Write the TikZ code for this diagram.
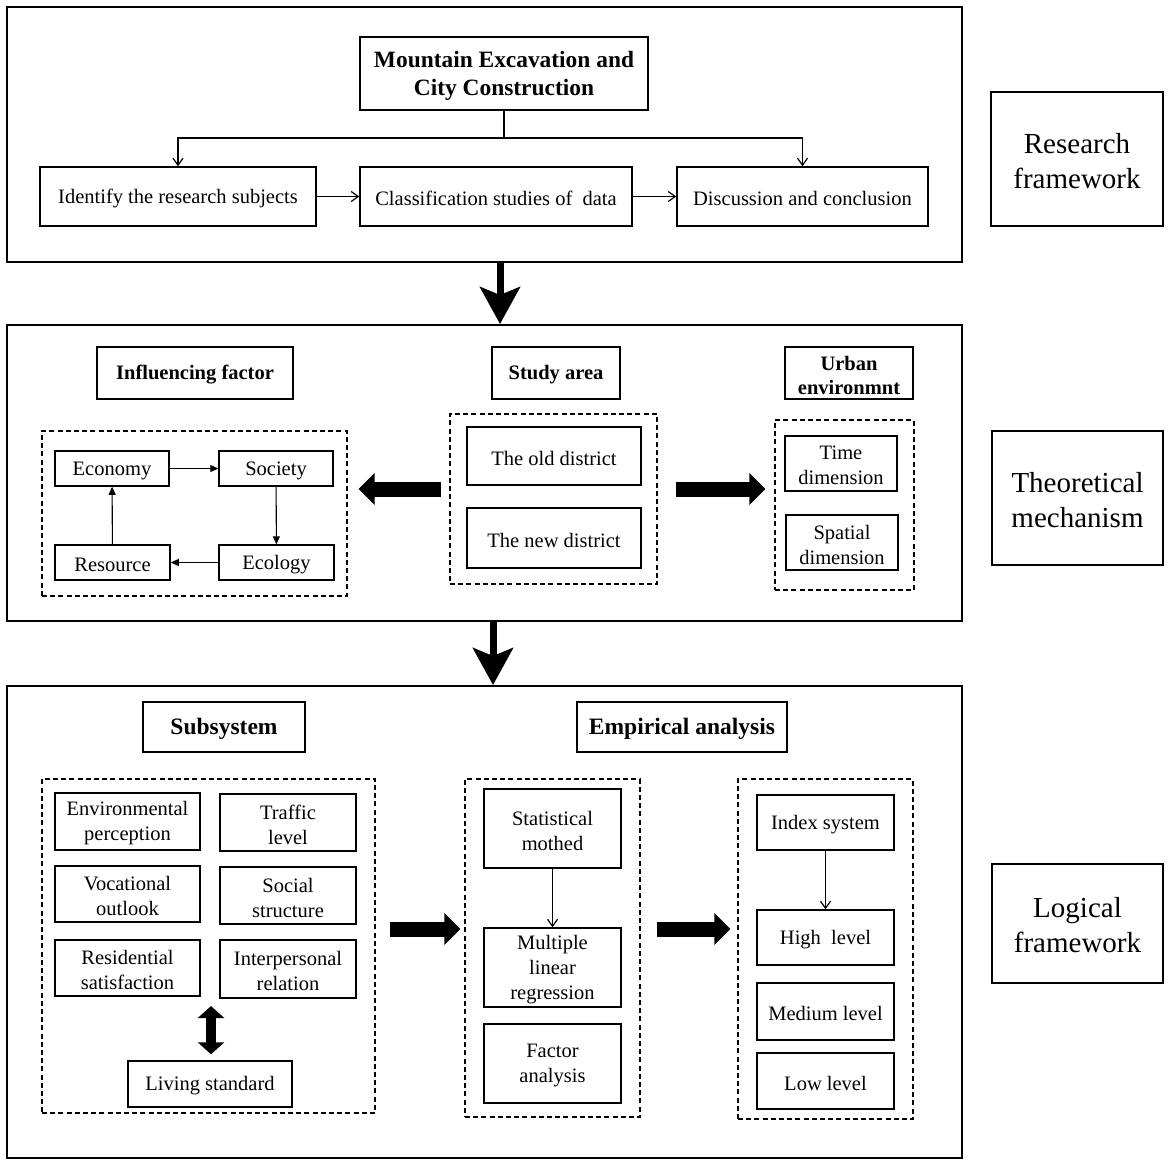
\documentclass[tikz,border=0pt]{standalone}
\usepackage{fontspec}
\setmainfont{Liberation Serif}
\usetikzlibrary{arrows.meta}
\newcommand\bx[7][]{\node[box,#1,minimum width={(#5-#3)*0.5pt},minimum height={(#6-#4)*0.5pt}] (#2) at ({(#3+#5)/2},{(#4+#6)/2}) {};
  \node[box,#1,draw=none,yshift=-1pt] (#2-t) at (#2.center) {#7};}
\begin{document}
\begin{tikzpicture}[x=0.5pt,y=-0.5pt,
  box/.style={draw,line width=0.75pt,align=center,inner sep=1pt,font=\fontsize{10.25}{12.5}\selectfont},
  obox/.style={line width=1pt},
  dbox/.style={line width=0.6pt,dash pattern=on 2.5pt off 1.6pt},
  tbox/.style={font=\fontsize{11.7}{14}\selectfont\bfseries},
  hbox/.style={font=\fontsize{10.25}{12}\selectfont\bfseries},
  Hbox/.style={font=\fontsize{11.75}{14}\selectfont\bfseries},
  rbox/.style={font=\fontsize{14.5}{17.5}\selectfont},
  open/.style={line width=0.6pt,-{Straight Barb[length=3.5pt,width=5pt]}},
  fill arr/.style={line width=0.55pt,-{Triangle[length=4pt,width=3.5pt]}},
  vbig/.style={line width=3.5pt,-{Stealth[length=18.5pt,width=20pt,inset=4pt]}},
  hbig/.style={line width=7.5pt,-{Triangle[length=8pt,width=15.5pt]}},
  dbl/.style={line width=5pt,{Triangle[length=6pt,width=13pt]}-{Triangle[length=6pt,width=13pt]}}]
\useasboundingbox (0,0) rectangle (1170,1164);
% ---------- top section
\bx[obox]{top}{7}{7}{962}{262}{}
\bx[tbox]{title}{360}{37}{648}{110}{Mountain Excavation and\\City Construction}
\bx{b1}{40}{167}{316}{226}{Identify the research subjects}
\bx{b2}{360}{167}{632}{226}{Classification studies of~ data}
\bx{b3}{677}{167}{928}{226}{Discussion and conclusion}
\coordinate (j) at (504,138);
\draw[line width=0.6pt] (title.south) -- (j);
\draw[open] (j) -| (b1.north);
\draw[open] (j) -| (b3.north);
\draw[open] (b1) -- (b2);
\draw[open] (b2) -- (b3);
% ---------- middle section
\bx[obox]{mid}{7}{325}{962}{621}{}
\bx[hbox]{h1}{97}{347}{293}{399}{Influencing factor}
\bx[hbox]{h2}{492}{347}{620}{399}{Study area}
\bx[hbox]{h3}{785}{347}{913}{399}{Urban\\environmnt}
\bx[dbox]{ifd}{42}{431}{347}{596}{}
\bx{eco}{55}{451}{169}{486}{Economy}
\bx{soc}{219}{451}{333}{486}{Society}
\bx{res}{55}{545}{170}{580}{Resource}
\bx{ecl}{219}{545}{334}{580}{Ecology}
\draw[fill arr] (eco) -- (soc);
\draw[fill arr] (soc) -- (ecl);
\draw[fill arr] (ecl) -- (res);
\draw[fill arr] (res) -- (eco);
\bx[dbox]{sad}{450}{414}{657}{584}{}
\bx{old}{467}{427}{641}{485}{The old district}
\bx{new}{467}{508}{641}{568}{The new district}
\bx[dbox]{urd}{775}{420}{914}{590}{}
\bx{tim}{785}{436}{897}{491}{Time\\dimension}
\bx{spa}{786}{515}{898}{570}{Spatial\\dimension}
\coordinate (ha) at (0,489);
\draw[hbig,shorten <=4pt,shorten >=5.5pt] (sad.west |- ha) -- (ifd.east |- ha);
\draw[hbig,shorten <=9pt,shorten >=4.5pt] (sad.east |- ha) -- (urd.west |- ha);
% ---------- bottom section
\bx[obox]{bot}{7}{686}{962}{1158}{}
\bx[Hbox]{h4}{143}{702}{305}{752}{Subsystem}
\bx[Hbox]{h5}{577}{702}{787}{752}{Empirical analysis}
\bx[dbox]{ssd}{42}{779}{375}{1113}{}
\bx{env}{55}{793}{200}{850}{Environmental\\perception}
\bx{tra}{220}{794}{356}{851}{Traffic\\level}
\bx{voc}{55}{866}{200}{922}{Vocational\\outlook}
\bx{soc2}{220}{867}{356}{924}{Social\\structure}
\bx{rsd}{55}{940}{200}{996}{Residential\\satisfaction}
\bx{int}{220}{940}{356}{998}{Interpersonal\\relation}
\bx{liv}{128}{1061}{292}{1107}{Living standard}
\coordinate (dA) at (211,1006);
\draw[dbl,shorten <=3pt] (liv.north -| dA) -- (dA);
\bx[dbox]{emd}{465}{779}{640}{1117}{}
\bx{sta}{484}{789}{621}{868}{Statistical\\mothed}
\bx{mlr}{484}{928}{621}{1007}{Multiple\\linear\\regression}
\bx{fac}{484}{1024}{621}{1103}{Factor\\analysis}
\draw[open] (sta) -- (mlr);
\bx[dbox]{lvd}{738}{779}{913}{1119}{}
\bx{idx}{757}{795}{894}{850}{Index system}
\bx{hig}{757}{910}{894}{965}{High~ level}
\bx{med}{757}{983}{894}{1040}{Medium level}
\bx{low}{757}{1053}{894}{1109}{Low level}
\draw[open] (idx) -- (hig);
\coordinate (hb) at (0,929);
\draw[hbig,shorten <=7pt,shorten >=2pt] (ssd.east |- hb) -- (emd.west |- hb);
\draw[hbig,shorten <=8pt,shorten >=3.5pt] (emd.east |- hb) -- (lvd.west |- hb);
% ---------- vertical big arrows
\coordinate (va) at (500,0);
\coordinate (vb) at (493,0);
\draw[vbig] (top.south -| va) -- (mid.north -| va);
\draw[vbig] (mid.south -| vb) -- (bot.north -| vb);
% ---------- right labels
\bx[rbox]{r1}{991}{92}{1163}{226}{Research\\framework}
\bx[rbox]{r2}{992}{431}{1163}{565}{Theoretical\\mechanism}
\bx[rbox]{r3}{992}{864}{1163}{983}{Logical\\framework}
\end{tikzpicture}
\end{document}
